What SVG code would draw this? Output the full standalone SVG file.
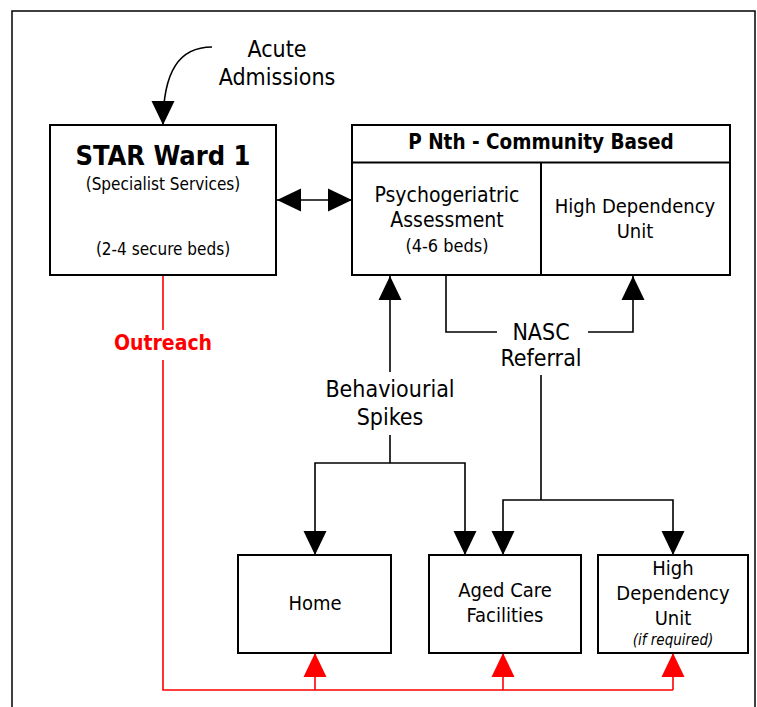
<svg xmlns="http://www.w3.org/2000/svg" width="757" height="707" viewBox="0 0 757 707">
  <style>
    .box { fill: #fff; stroke: #000; stroke-width: 2; }
    .ln { fill: none; stroke: #000; stroke-width: 1.6; }
    .red { fill: none; stroke: #f00; stroke-width: 1.6; }
    text { font-family: "DejaVu Sans Condensed", "DejaVu Sans", sans-serif; font-stretch: condensed; fill: #000; text-anchor: middle; }
    .t20 { font-size: 20px; }
    .t17 { font-size: 17px; }
    .t23 { font-size: 23px; }
    .b { font-weight: bold; }
  </style>
  <defs>
    <marker id="ah" markerUnits="userSpaceOnUse" markerWidth="24" markerHeight="24" refX="24" refY="11.5" orient="auto-start-reverse" viewBox="0 0 24 23">
      <path d="M0,0 L24,11.5 L0,23 z" fill="#000"/>
    </marker>
    <marker id="ahr" markerUnits="userSpaceOnUse" markerWidth="24" markerHeight="24" refX="24" refY="11.5" orient="auto" viewBox="0 0 24 23">
      <path d="M0,0 L24,11.5 L0,23 z" fill="#f00"/>
    </marker>
  </defs>

  <rect x="0" y="0" width="757" height="707" fill="#fff"/>
  <!-- page frame -->
  <rect x="12" y="11" width="743" height="720" fill="none" stroke="#000" stroke-width="1.5"/>

  <g id="connectors">
    <!-- Acute admissions inflow -->
    <path class="ln" d="M212,47 C180,47 163,70 163,125" marker-end="url(#ah)"/>
    <!-- STAR <-> P Nth -->
    <line class="ln" x1="277" y1="200" x2="352" y2="200" marker-start="url(#ah)" marker-end="url(#ah)"/>
    <!-- behavioural spikes -->
    <line class="ln" x1="390" y1="372" x2="390" y2="276" marker-end="url(#ah)"/>
    <polyline class="ln" points="390,435 390,463"/>
    <polyline class="ln" points="315,555 315,463 465,463 465,555" marker-start="url(#ah)" marker-end="url(#ah)"/>
    <!-- NASC referral -->
    <polyline class="ln" points="446,276 446,332 497,332"/>
    <polyline class="ln" points="588,332 633,332 633,276" marker-end="url(#ah)"/>
    <line class="ln" x1="541" y1="375" x2="541" y2="500"/>
    <polyline class="ln" points="503,555 503,500 673,500 673,555" marker-start="url(#ah)" marker-end="url(#ah)"/>
    <!-- outreach -->
    <line class="red" x1="163" y1="276" x2="163" y2="330"/>
    <polyline class="red" points="163,360 163,690 673,690"/>
    <line class="red" x1="315" y1="690" x2="315" y2="653" marker-end="url(#ahr)"/>
    <line class="red" x1="503" y1="690" x2="503" y2="653" marker-end="url(#ahr)"/>
    <line class="red" x1="673" y1="690" x2="673" y2="653" marker-end="url(#ahr)"/>
  </g>

  <g id="acute-label">
    <text class="t23" x="277" y="57">Acute</text>
    <text class="t23" x="277" y="85">Admissions</text>
  </g>

  <g id="star-ward">
    <rect class="box" x="50" y="125" width="226" height="150"/>
    <text class="b" x="163" y="165" font-size="27">STAR Ward 1</text>
    <text class="t17" x="163" y="190">(Specialist Services)</text>
    <text class="t17" x="163" y="255">(2-4 secure beds)</text>
  </g>

  <g id="pnth">
    <rect class="box" x="352" y="125" width="378" height="150"/>
    <line x1="352" y1="162.5" x2="730" y2="162.5" stroke="#000" stroke-width="2"/>
    <line x1="541" y1="162.5" x2="541" y2="275" stroke="#000" stroke-width="2"/>
    <text class="b" x="541" y="149" font-size="20.5">P Nth - Community Based</text>
    <g id="psychogeriatric">
      <text x="447" y="202" font-size="21">Psychogeriatric</text>
      <text x="447" y="227" font-size="21">Assessment</text>
      <text x="447" y="252" font-size="18">(4-6 beds)</text>
    </g>
    <g id="hdu-top">
      <text class="t20" x="635" y="213">High Dependency</text>
      <text class="t20" x="635" y="238">Unit</text>
    </g>
  </g>

  <g id="label-spikes">
    <text class="t23" x="390" y="397">Behaviourial</text>
    <text class="t23" x="390" y="425">Spikes</text>
  </g>
  <g id="label-nasc">
    <text class="t23" x="541" y="340">NASC</text>
    <text class="t23" x="541" y="366">Referral</text>
  </g>
  <g id="label-outreach">
    <text class="b" x="163" y="350" font-size="21" style="fill:#f00">Outreach</text>
  </g>

  <g id="home">
    <rect class="box" x="238" y="555" width="153" height="98"/>
    <text class="t20" x="315" y="610">Home</text>
  </g>
  <g id="aged-care">
    <rect class="box" x="429" y="555" width="152" height="98"/>
    <text class="t20" x="505" y="597">Aged Care</text>
    <text class="t20" x="505" y="622">Facilities</text>
  </g>
  <g id="hdu-bottom">
    <rect class="box" x="598" y="555" width="150" height="98"/>
    <text class="t20" x="673" y="575">High</text>
    <text class="t20" x="673" y="600">Dependency</text>
    <text class="t20" x="673" y="625">Unit</text>
    <text x="673" y="645" font-size="15" font-style="italic">(if required)</text>
  </g>
</svg>
